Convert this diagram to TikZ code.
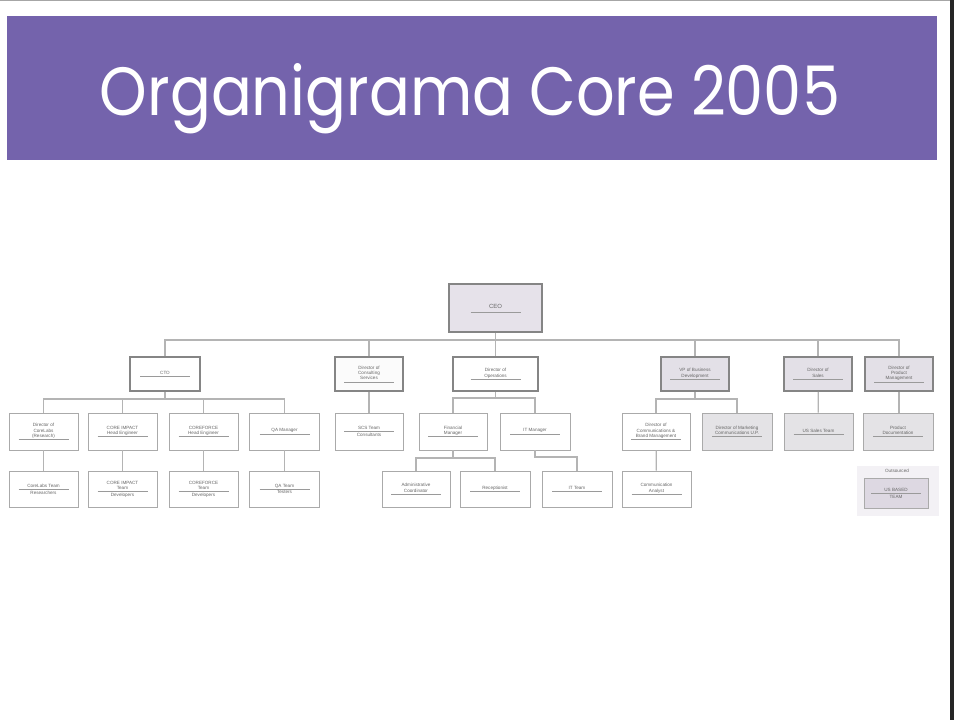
\documentclass[tikz,border=0pt]{standalone}
\usepackage{fontspec}
\setmainfont{Liberation Sans}
\newfontfamily\titlefont{Poppins}
\usepackage{graphicx}
\definecolor{barpurple}{HTML}{7463AC}
\definecolor{conngray}{HTML}{B4B4B4}
\definecolor{thinborder}{HTML}{AAAAAA}
\definecolor{thickborder}{HTML}{858585}
\definecolor{ceofill}{HTML}{E6E2EA}
\definecolor{lavfill}{HTML}{E3E0E7}
\definecolor{grayfill}{HTML}{E4E3E6}
\definecolor{outerfill}{HTML}{F3F1F5}
\definecolor{innerfill}{HTML}{DDD8E2}
\definecolor{rulegray}{HTML}{9A9A9A}
\definecolor{textgray}{HTML}{666666}
\newcommand{\mrule}{\\[-3pt]{\color{rulegray}\rule{50pt}{0.5pt}}\\[-0.8pt]}
\newcommand{\erule}{\\[-3pt]{\color{rulegray}\rule{50pt}{0.5pt}}}
\begin{document}
\begin{tikzpicture}[x=1pt,y=-1pt,
  base/.style={rectangle, align=center, inner sep=1pt, text=textgray,
    font=\fontsize{4.6}{5.3}\selectfont},
  topbox/.style={base, draw=thickborder, line width=1.8pt, fill=white,
    minimum width=68pt, minimum height=34pt},
  ceobox/.style={base, draw=thickborder, line width=2.6pt, fill=ceofill,
    minimum width=93pt, minimum height=48pt, font=\fontsize{6}{7}\selectfont},
  subbox/.style={base, draw=thinborder, line width=0.9pt, fill=white,
    minimum width=69pt, minimum height=37pt},
  lowbox/.style={subbox, minimum height=36pt},
  conn/.style={draw=conngray, line width=1.2pt}
]
\useasboundingbox (0,0) rectangle (960,720);
\fill[white] (0,0) rectangle (960,720);
% frame
\draw[gray!70, line width=1pt] (0,0.5) -- (952,0.5);
\fill[black!85] (950,0) rectangle (953.5,720);
% title bar
\fill[barpurple] (7,16) rectangle (937,160);
\node[anchor=base, inner sep=0, text=white] (title) at (470,115)
  {\resizebox{740pt}{52pt}{\titlefont\fontsize{72}{72}\selectfont Organigrama Core 2005}};

% top
\node[ceobox] (ceo) at (495.5,308) {CEO\erule};
% row 1
\node[topbox, minimum width=70pt] (cto) at (165,374) {CTO\erule};
\node[topbox, fill=white!97!gray] (cons) at (369,374) {Director of\\Consulting\\Services\erule};
\node[topbox, minimum width=85pt] (ops) at (495.5,374) {Director of\\Operations\erule};
\node[topbox, fill=lavfill] (vp) at (695,374) {VP of Business\\Development\erule};
\node[topbox, fill=lavfill] (sales) at (818,374) {Director of\\Sales\erule};
\node[topbox, fill=lavfill] (prod) at (899,374) {Director of\\Product\\Management\erule};
% row 2
\node[subbox] (clab) at (43.5,431.5) {Director of\\CoreLabs\\(Research)\erule};
\node[subbox] (cihead) at (122.5,431.5) {CORE IMPACT\\Head Engineer\erule};
\node[subbox] (cfhead) at (203.5,431.5) {COREFORCE\\Head Engineer\erule};
\node[subbox, minimum width=70pt] (qamgr) at (284.5,431.5) {QA Manager\erule};
\node[subbox, minimum width=68pt] (scs) at (369,431.5) {SCS Team\mrule Consultants};
\node[subbox, minimum width=68pt] (fin) at (453,431.5) {Financial\\Manager\erule};
\node[subbox, minimum width=70pt] (itmgr) at (535,431.5) {IT Manager\erule};
\node[subbox, minimum width=68pt] (comm) at (656,431.5) {Director of\\Communications \&\\Brand Management\erule};
\node[subbox, minimum width=70pt, fill=grayfill] (mkt) at (737,431.5) {Director of Marketing\\Communications U.P.\erule};
\node[subbox, fill=grayfill] (ussales) at (818.5,431.5) {US Sales Team\erule};
\node[subbox, minimum width=70pt, fill=grayfill] (pdoc) at (898,431.5) {Product\\Documentation\erule};
% row 3
\node[lowbox] (clteam) at (43.5,489) {CoreLabs Team\mrule Researchers};
\node[lowbox] (citeam) at (122.5,489) {CORE IMPACT\\Team\mrule Developers};
\node[lowbox] (cfteam) at (203.5,489) {COREFORCE\\Team\mrule Developers};
\node[lowbox, minimum width=70pt] (qateam) at (284.5,489) {QA Team\mrule Testers};
\node[lowbox, minimum width=68pt] (admin) at (416,489) {Administrative\\Coordinator\erule};
\node[lowbox, minimum width=70pt] (recep) at (495,489) {Receptionist\erule};
\node[lowbox, minimum width=70pt] (itteam) at (577,489) {IT Team\erule};
\node[lowbox] (analyst) at (656.5,489) {Communication\\Analyst\erule};
% outsourced group
\node[rectangle, fill=outerfill, minimum width=82pt, minimum height=50pt, inner sep=0] (outer) at (898,491) {};
\node[base, anchor=north] (outlbl) at (897,468) {Outsourced};
\node[base, draw=thinborder, line width=0.9pt, fill=innerfill, minimum width=64pt, minimum height=30pt] (usteam) at (896,493) {US BASED\mrule TEAM};

% connectors
\coordinate (bus0) at (495.5,340);
\draw[conn] (ceo.south) -- (bus0);
\foreach \n in {cto,cons,ops,vp,sales,prod} \draw[conn] (bus0) -| (\n.north);

\coordinate (bus1) at (165,399);
\draw[conn] (cto.south) -- (bus1);
\foreach \n in {clab,cihead,cfhead,qamgr} \draw[conn] (bus1) -| (\n.north);
\draw[conn] (clab) -- (clteam);
\draw[conn] (cihead) -- (citeam);
\draw[conn] (cfhead) -- (cfteam);
\draw[conn] (qamgr) -- (qateam);

\draw[conn] (cons) -- (scs);

\coordinate (bus2) at (495.5,398);
\draw[conn] (ops.south) -- (bus2);
\foreach \n in {fin,itmgr} \draw[conn] (bus2) -| (\n.north);

\coordinate (bus3) at (453,458);
\draw[conn] (fin.south) -- (bus3);
\foreach \n in {admin,recep} \draw[conn] (bus3) -| (\n.north);
\coordinate (bus4) at (535,457);
\draw[conn] (itmgr.south) -- (bus4) -| (itteam.north);

\coordinate (bus5) at (695,399);
\draw[conn] (vp.south) -- (bus5);
\foreach \n in {comm,mkt} \draw[conn] (bus5) -| (\n.north);
\draw[conn] (comm) -- (analyst);

\draw[conn] (sales) -- (ussales);
\draw[conn] (prod.south) -- (prod.south |- pdoc.north);
\end{tikzpicture}
\end{document}
